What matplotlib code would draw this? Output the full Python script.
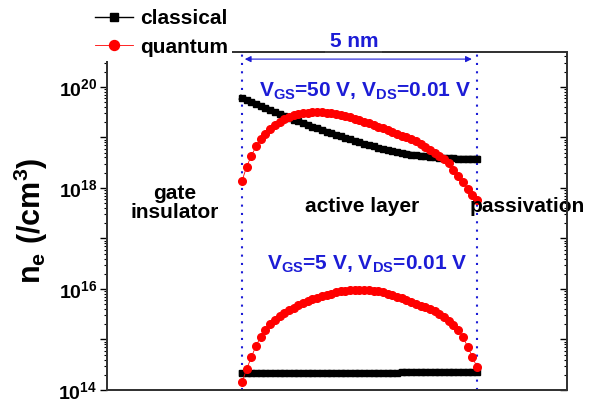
import matplotlib
matplotlib.use('Agg')
import matplotlib.pyplot as plt
import matplotlib.transforms as mtransforms
import numpy as np
from matplotlib.ticker import LogLocator, NullFormatter, FuncFormatter

plt.rcParams['font.family'] = ['Liberation Sans', 'DejaVu Sans']
plt.rcParams['font.weight'] = 'bold'
plt.rcParams['axes.labelweight'] = 'bold'
plt.rcParams['mathtext.default'] = 'regular'

# depth across the 5 nm active layer
depth_nm = np.linspace(0.0, 5.0, 51)

# log10(n_e / cm^-3)
classical_50 = [19.78, 19.74, 19.70, 19.66, 19.62, 19.58, 19.54, 19.50, 19.46, 19.43,
                19.39, 19.35, 19.32, 19.28, 19.25, 19.21, 19.18, 19.15, 19.11, 19.08,
                19.05, 19.02, 18.99, 18.96, 18.93, 18.90, 18.87, 18.84, 18.82, 18.79,
                18.77, 18.75, 18.73, 18.71, 18.69, 18.68, 18.66, 18.65, 18.64, 18.63,
                18.62, 18.61, 18.60, 18.60, 18.59, 18.59, 18.58, 18.58, 18.58, 18.58,
                18.58]
quantum_50 = [18.14, 18.42, 18.64, 18.82, 18.96, 19.07, 19.16, 19.24, 19.31, 19.37,
              19.41, 19.44, 19.46, 19.48, 19.49, 19.50, 19.50, 19.50, 19.49, 19.48,
              19.47, 19.45, 19.43, 19.40, 19.37, 19.34, 19.31, 19.28, 19.25, 19.21,
              19.18, 19.14, 19.11, 19.07, 19.03, 19.00, 18.97, 18.92, 18.87, 18.81,
              18.76, 18.70, 18.64, 18.58, 18.49, 18.36, 18.24, 18.12, 17.98, 17.86,
              17.76]
classical_5 = [14.33, 14.33, 14.33, 14.33, 14.33, 14.33, 14.33, 14.33, 14.33, 14.33,
               14.33, 14.33, 14.33, 14.33, 14.33, 14.33, 14.33, 14.33, 14.33, 14.33,
               14.33, 14.33, 14.33, 14.33, 14.33, 14.33, 14.33, 14.33, 14.33, 14.33,
               14.33, 14.33, 14.33, 14.33, 14.35, 14.35, 14.35, 14.35, 14.35, 14.35,
               14.35, 14.35, 14.35, 14.35, 14.35, 14.35, 14.35, 14.35, 14.35, 14.35,
               14.35]
quantum_5 = [14.15, 14.42, 14.65, 14.88, 15.05, 15.19, 15.30, 15.39, 15.46, 15.52,
             15.58, 15.63, 15.68, 15.72, 15.76, 15.80, 15.83, 15.86, 15.89, 15.91,
             15.93, 15.95, 15.96, 15.97, 15.98, 15.98, 15.98, 15.97, 15.96, 15.95,
             15.93, 15.91, 15.88, 15.85, 15.82, 15.78, 15.74, 15.70, 15.66, 15.65,
             15.61, 15.56, 15.50, 15.44, 15.37, 15.29, 15.19, 15.05, 14.86, 14.66,
             14.45]

blue = '#1c1cd6'

fig = plt.figure(figsize=(6.02, 4.03), dpi=100)
ax = fig.add_axes([107 / 602, 13 / 403, 460 / 602, 338 / 403])

ax.axvline(0.0, color=blue, ls=(0, (1, 3)), lw=1.5, zorder=1)
ax.axvline(5.0, color=blue, ls=(0, (1, 3)), lw=1.5, zorder=1)

# thick band under the classical markers (dense squares in the original)
ax.plot(depth_nm, 10 ** np.array(classical_50), '-', color='black', lw=4, zorder=2)
ax.plot(depth_nm, 10 ** np.array(classical_5), '-', color='black', lw=4.5, zorder=2)
ax.plot(depth_nm, 10 ** np.array(classical_50), '-s', color='black', ms=4.5, lw=1,
        label='classical', zorder=2)
ax.plot(depth_nm, 10 ** np.array(classical_5), '-s', color='black', ms=4.5, lw=1, zorder=2)
ax.plot(depth_nm, 10 ** np.array(quantum_50), '-o', color='red', ms=5.5, lw=0.6,
        label='quantum', zorder=3)
ax.plot(depth_nm, 10 ** np.array(quantum_5), '-o', color='red', ms=5.5, lw=0.6, zorder=3)

ax.set_yscale('log')
ax.set_xlim(-2.872, 6.915)
ax.set_ylim(1e14, 10 ** 20.69)
ax.set_xticks([])


def even_decades(val, pos):
    e = int(round(np.log10(val)))
    return r'$10^{%d}$' % e if e % 2 == 0 else ''


ax.yaxis.set_major_locator(LogLocator(base=10, numticks=20))
ax.yaxis.set_minor_locator(LogLocator(base=10, subs=np.arange(2, 10), numticks=20))
ax.yaxis.set_minor_formatter(NullFormatter())
ax.yaxis.set_major_formatter(FuncFormatter(even_decades))
ax.tick_params(axis='y', which='major', direction='out', length=5, width=1, labelsize=14, pad=2)
ax.tick_params(axis='y', which='minor', direction='out', length=2.5, width=0.8)

ax2 = ax.twinx()
ax2.set_yscale('log')
ax2.set_ylim(ax.get_ylim())
ax2.yaxis.set_major_locator(LogLocator(base=10, numticks=20))
ax2.yaxis.set_minor_locator(LogLocator(base=10, subs=np.arange(2, 10), numticks=20))
ax2.yaxis.set_major_formatter(NullFormatter())
ax2.yaxis.set_minor_formatter(NullFormatter())
ax2.tick_params(axis='y', which='major', direction='in', length=5, width=1)
ax2.tick_params(axis='y', which='minor', direction='in', length=2.5, width=0.8)

for a in (ax, ax2):
    for s in a.spines.values():
        s.set_color('#333333')
        s.set_linewidth(1.3)

ax.set_ylabel(r'n$_e$ (/cm$^3$)', fontsize=22, fontweight='bold', labelpad=6)

trans = mtransforms.blended_transform_factory(ax.transData, ax.transAxes)
ax.annotate('', xy=(4.89, 0.979), xytext=(0.06, 0.979), xycoords=trans, textcoords=trans,
            arrowprops=dict(arrowstyle='<|-|>', color=blue, lw=0.8, mutation_scale=9,
                            shrinkA=0, shrinkB=0))
ax.text(2.38, 1.0325, '5 nm', transform=trans, ha='center', va='center', color=blue,
        fontsize=15, bbox=dict(fc='white', ec='none', pad=3), clip_on=False, zorder=5)

ax.text(2.62, 10 ** 19.80, r'V$_{GS}$=50 V, V$_{DS}$=0.01 V', ha='center', va='baseline',
        color=blue, fontsize=15)
ax.text(2.66, 10 ** 16.38, r'V$_{GS}$=5 V, V$_{DS}$=0.01 V', ha='center', va='baseline',
        color=blue, fontsize=15)
ax.text(-1.43, 10 ** 17.70, 'gate\ninsulator', ha='center', va='center', fontsize=15,
        linespacing=1.05)
ax.text(2.55, 10 ** 17.64, 'active layer', ha='center', va='center', fontsize=15)
ax.text(6.06, 10 ** 17.64, 'passivation', ha='center', va='center', fontsize=15, clip_on=False)

leg = fig.legend(loc='upper left', bbox_to_anchor=(91 / 602, 1 - 5 / 403), fontsize=15,
                 frameon=True, facecolor='white', edgecolor='none', framealpha=1,
                 handlelength=1.8, handletextpad=0.35, labelspacing=0.45, borderpad=0.2,
                 borderaxespad=0, markerscale=1.3)

fig.savefig('out.png', dpi=100)
